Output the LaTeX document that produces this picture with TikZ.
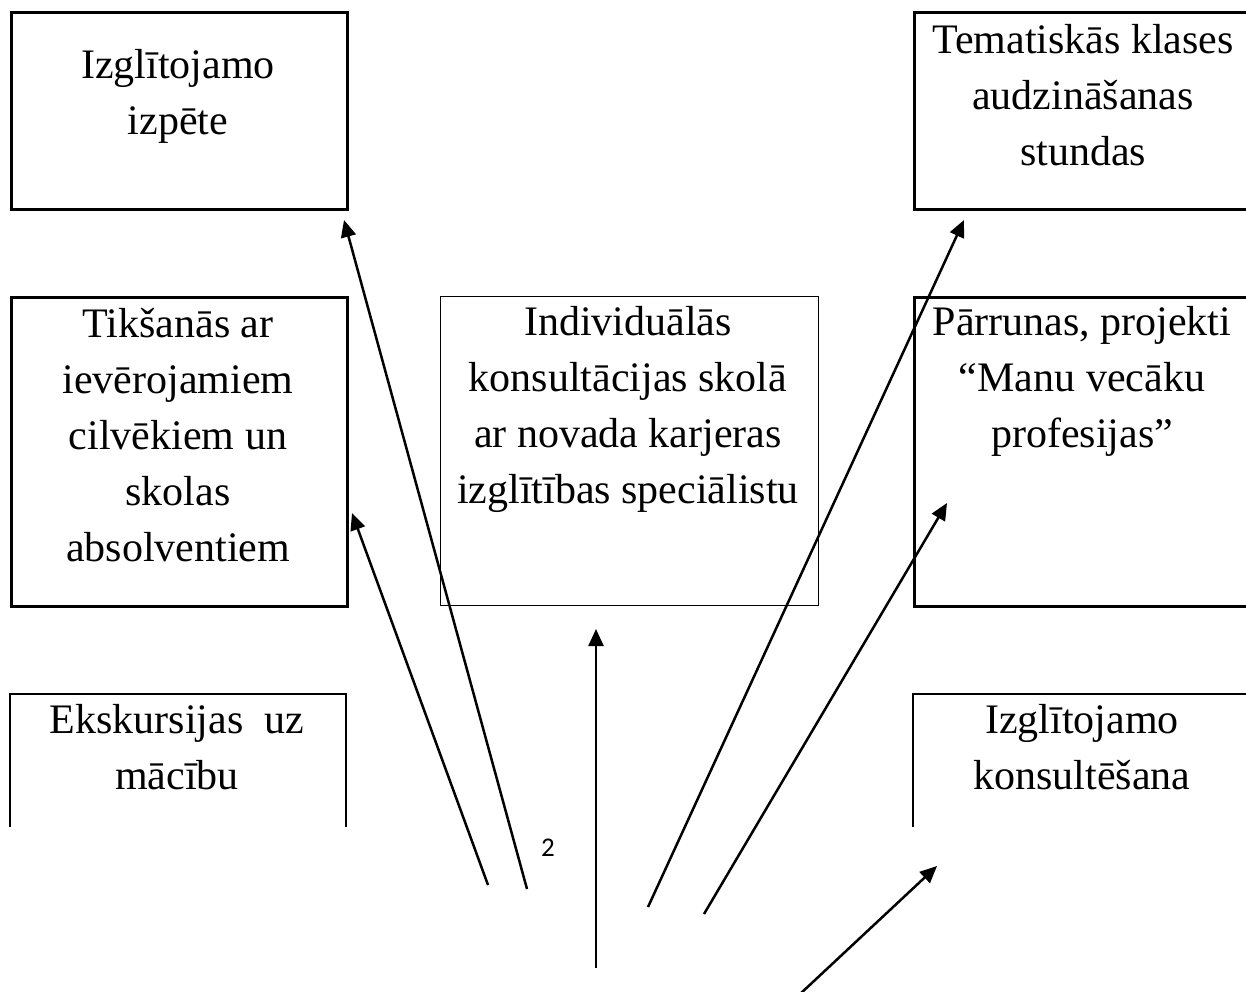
\documentclass[tikz,border=0pt]{standalone}
\usepackage{fontspec}
\setmainfont{Liberation Serif}
\newfontfamily\pagefont{Carlito}
\usetikzlibrary{arrows.meta}
\begin{document}
\begin{tikzpicture}[x=1pt,y=-1pt,
  boxthick/.style={draw,line width=2.8pt,minimum width=#1,anchor=north west,inner sep=0pt},
  boxthin/.style={draw,line width=1.2pt,anchor=north west,inner sep=0pt},
  openbox/.style={line width=2.8pt},
  txt/.style={align=center,anchor=base,font=\fontsize{42}{56}\selectfont,inner sep=0pt},
  conn/.style={line width=2.5pt,-{Triangle[length=17pt,width=15pt]}}]
\useasboundingbox (0,0) rectangle (1246,991);
\fill[white] (0,0) rectangle (1246,991);
\clip (0,0) rectangle (1246,991);
% boxes
\node[boxthick=336pt,minimum height=197pt] (b1) at (10,11) {};
\node[boxthick=360pt,minimum height=197pt] (b2) at (913,11) {};
\node[boxthick=336pt,minimum height=309pt] (b3) at (10,296) {};
\node[boxthin,minimum width=378pt,minimum height=309pt] (b4) at (440,296) {};
\node[boxthick=360pt,minimum height=309pt] (b5) at (913,296) {};
\coordinate (b6tl) at (10,694); \coordinate (b6tr) at (346,694);
\coordinate (b6bl) at (10,827); \coordinate (b6br) at (346,827);
\coordinate (b7tl) at (913,694); \coordinate (b7tr) at (1280,694);
\coordinate (b7bl) at (913,827);
\draw[openbox] (b6bl) -- (b6tl) -- (b6tr) -- (b6br);
\draw[openbox] (b7bl) -- (b7tl) -- (b7tr);
% texts (anchor = baseline of last line)
\node[txt] (t1) at (178,134) {Izglītojamo\\izpēte};
\node[txt] (t2) at (1083,165) {Tematiskās klases\\audzināšanas\\stundas};
\node[txt] (t3) at (178,561) {Tikšanās ar\\ievērojamiem\\cilvēkiem un\\skolas\\absolventiem};
\node[txt] (t4) at (628,503) {Individuālās\\konsultācijas skolā\\ar novada karjeras\\izglītības speciālistu};
\node[txt] (t5) at (1082,447) {Pārrunas, projekti\\“Manu vecāku\\profesijas”};
\node[txt] (t6) at (177,789) {Ekskursijas~~uz\\mācību};
\node[txt] (t7) at (1082,789) {Izglītojamo\\konsultēšana};
\node[font=\pagefont\fontsize{27}{30}\selectfont,anchor=base,inner sep=0pt] (pg) at (548,856) {2};
% arrow ends
\coordinate (s1) at (488,885); \coordinate (e1) at (352,513);
\coordinate (s2) at (527,889); \coordinate (e2) at (344,220);
\coordinate (s3) at (596,968); \coordinate (e3) at (596,629);
\coordinate (s4) at (648,907); \coordinate (e4) at (964,220);
\coordinate (s5) at (704,914); \coordinate (e5) at (947,503);
\coordinate (s6) at (799,995); \coordinate (e6) at (937,866);
\foreach \i in {1,...,6} \draw[conn] (s\i) -- (e\i);
\end{tikzpicture}
\end{document}
